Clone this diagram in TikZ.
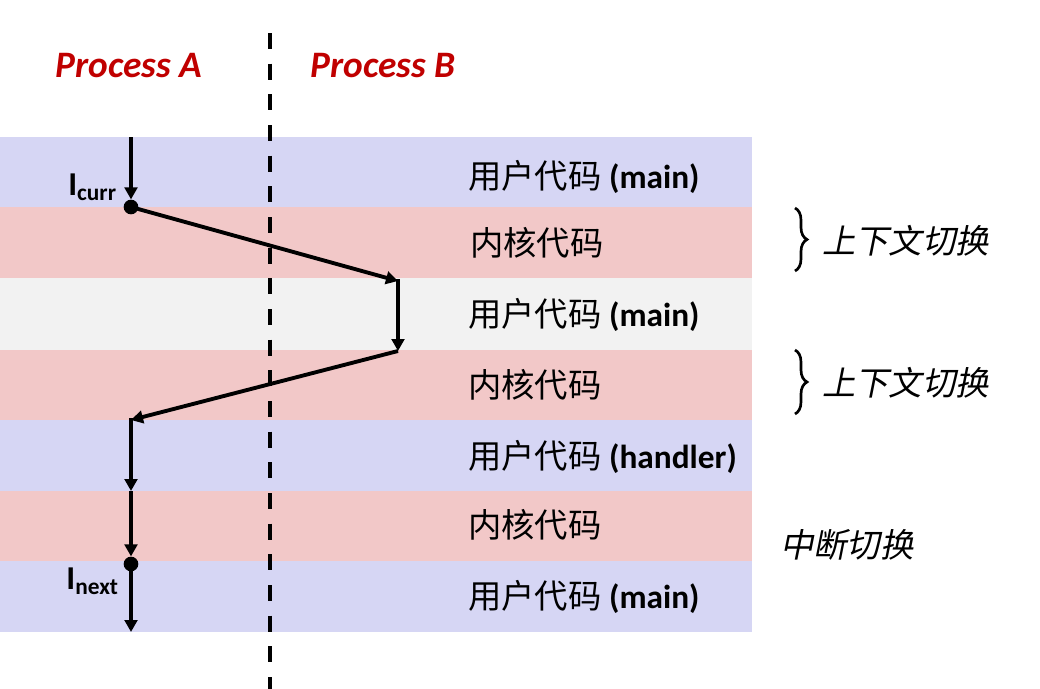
\documentclass[tikz,border=0pt]{standalone}
\usepackage{fontspec}
\setmainfont{Carlito}
\newfontfamily\cjk{Noto Sans CJK SC}
\newfontfamily\cjkit[FakeSlant=0.2]{Noto Sans CJK SC}
\usetikzlibrary{arrows.meta,decorations.pathreplacing}
\definecolor{bandblue}{RGB}{214,214,244}
\definecolor{bandpink}{RGB}{242,200,200}
\definecolor{bandgray}{RGB}{242,242,242}
\definecolor{procred}{RGB}{192,0,0}
\tikzset{
  arr/.style={line width=2.9pt,-{Triangle[length=9pt,width=9.5pt]}},
  dot/.style={circle,fill=black,inner sep=0pt,minimum size=11pt},
  band/.style={anchor=west,inner sep=0pt,font=\fontsize{25}{29}\selectfont},
  proc/.style={text=procred,font=\fontsize{28}{33}\selectfont\bfseries\itshape},
  side/.style={anchor=west,inner sep=0pt,font=\fontsize{25}{29}\selectfont\cjkit},
  lbl/.style={anchor=east,inner sep=0pt,font=\fontsize{25}{29}\selectfont\bfseries},
  brc/.style={decorate,decoration={brace,amplitude=9pt},line width=2pt}
}
\begin{document}
\begin{tikzpicture}[x=0.75pt,y=-0.75pt]
\useasboundingbox (0,0) rectangle (1040,689);
% bands
\fill[bandblue] (0,137) rectangle (752,207);
\fill[bandpink] (0,207) rectangle (752,278);
\fill[bandgray] (0,278) rectangle (752,350);
\fill[bandpink] (0,350) rectangle (752,420);
\fill[bandblue] (0,420) rectangle (752,491);
\fill[bandpink] (0,491) rectangle (752,561);
\fill[bandblue] (0,561) rectangle (752,632);
% dashed divider
\draw[line width=2.8pt,dash pattern=on 12pt off 11pt] (270,33) -- (270,689);
% headings
\node[proc] (pa) at (129,66) {Process A};
\node[proc] (pb) at (383,66) {Process B};
% band labels
\node[band] (t1) at (468,177) {{\cjk 用户代码} \textbf{(main)}};
\node[band] (t2) at (470,243) {\cjk 内核代码};
\node[band] (t3) at (468,315) {{\cjk 用户代码} \textbf{(main)}};
\node[band] (t4) at (468,385) {\cjk 内核代码};
\node[band] (t5) at (468,457) {{\cjk 用户代码} \textbf{(handler)}};
\node[band] (t6) at (468,525) {\cjk 内核代码};
\node[band] (t7) at (468,597) {{\cjk 用户代码} \textbf{(main)}};
% braces and side labels
\coordinate (br1a) at (795,208);
\coordinate (br1b) at (795,271);
\coordinate (br2a) at (795,350);
\coordinate (br2b) at (795,414);
\draw[brc] (br1a) -- (br1b);
\draw[brc] (br2a) -- (br2b);
\node[side] (s1) at (822,241) {上下文切换};
\node[side] (s2) at (822,383) {上下文切换};
\node[side] (s3) at (780,545) {中断切换};
% control flow
\coordinate (a0) at (131,137);
\node[dot] (curr) at (131,207) {};
\coordinate (b1) at (398,281);
\coordinate (b2) at (398,351);
\coordinate (a1) at (131,420);
\coordinate (a2) at (131,491);
\node[dot] (next) at (131,564) {};
\coordinate (a3) at (131,632);
\draw[arr] (a0) -- (curr.north);
\draw[arr] (curr.center) -- (b1);
\draw[arr,shorten <=-1.4pt] (b1) -- (b2);
\draw[arr] (b2) -- (a1);
\draw[arr,shorten <=-1.4pt] (a1) -- (a2);
\draw[arr] (a2) -- (next.north);
\draw[arr] (next.center) -- (a3);
% point labels
\node[lbl] (lc) at (117,187) {I\textsubscript{curr}};
\node[lbl] (ln) at (119,581) {I\textsubscript{next}};
\end{tikzpicture}
\end{document}
